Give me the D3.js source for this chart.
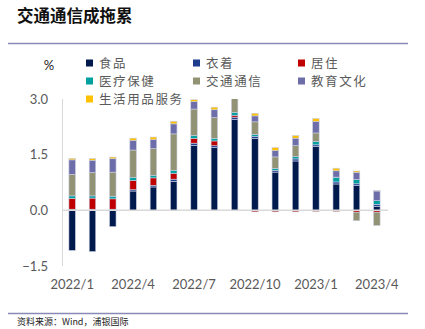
<!DOCTYPE html>
<html><head><meta charset="utf-8">
<script src="https://cdn.jsdelivr.net/npm/d3@7"></script>
<style>
html,body{margin:0;padding:0;background:#fff;}
svg{display:block;}
</style></head>
<body>
<svg id="c" width="425" height="329"></svg>
<script>
const months = ["2022/1","2022/2","2022/3","2022/4","2022/5","2022/6","2022/7","2022/8","2022/9","2022/10","2022/11","2022/12","2023/1","2023/2","2023/3","2023/4"];
const tickLabels = ["2022/1","2022/4","2022/7","2022/10","2023/1","2023/4"];
const yTicks = [-1.5, 0, 1.5, 3.0];
const seriesNames = ["食品","衣着","居住","医疗保健","交通通信","教育文化","生活用品服务"];
const food      = [-1.08,-1.11,-0.44,0.52,0.63,0.78,1.75,1.69,2.45,1.94,1.03,1.33,1.72,0.71,0.67,0.11];
const clothing  = [0.03,0.03,0.03,0.035,0.045,0.06,0.06,0.05,0.06,0.05,0.045,0.055,0.045,0.055,0.045,0.05];
const housing   = [0.29,0.30,0.28,0.25,0.20,0.16,0.13,0.13,0.05,-0.04,-0.04,-0.04,-0.03,-0.03,-0.05,-0.05];
const medical   = [0.07,0.06,0.07,0.08,0.07,0.08,0.08,0.07,0.08,0.055,0.055,0.06,0.09,0.12,0.12,0.10];
const transport = [0.58,0.63,0.65,0.74,0.72,0.98,0.71,0.56,0.45,0.34,0.31,0.30,0.23,0.01,-0.23,-0.36];
const education = [0.39,0.33,0.36,0.26,0.24,0.27,0.20,0.21,0.20,0.16,0.17,0.20,0.31,0.17,0.19,0.26];
const household = [0.04,0.045,0.045,0.06,0.07,0.07,0.05,0.07,0.06,0.07,0.08,0.07,0.08,0.07,0.035,0.01];
const colors = ["#001a4d","#1f3c8f","#c00000","#00a0a0","#929374","#6d6da9","#ffc000"];

const allSeries = [food,clothing,housing,medical,transport,education,household];
const table = months.map((m,i)=>{ const r={month:m}; seriesNames.forEach((k,j)=>r[k]=allSeries[j][i]); return r; });

const svg = d3.select("#c");
const cjk = "'Noto Sans CJK SC', sans-serif";
const num = "Lato, 'Liberation Sans', sans-serif";

// title
svg.append("text").attr("x",17).attr("y",22).attr("font-family",cjk).attr("font-size",16.5)
  .attr("font-weight",700).attr("fill","#111").text("交通通信成拖累");
svg.append("line").attr("x1",8).attr("x2",408).attr("y1",43.5).attr("y2",43.5)
  .attr("stroke","#8a8ab8").attr("stroke-width",1.5);

const x = d3.scaleBand().domain(months).range([62,387]).paddingInner(0.68).paddingOuter(0.34);
const y = d3.scaleLinear().domain([-1.5,3]).range([266,99]);

// axes lines
svg.append("line").attr("x1",62.5).attr("x2",62.5).attr("y1",y(3)).attr("y2",y(-1.5))
  .attr("stroke","#d9d9d9").attr("stroke-width",1);

// y tick labels
const yAxis = d3.axisLeft(y).tickValues(yTicks).tickFormat(d3.format(".1f")).tickSize(0).tickPadding(14);
const ya = svg.append("g").attr("transform","translate(62,0)").call(yAxis);
ya.select(".domain").remove();
ya.selectAll("text").attr("font-family",num).attr("font-size",13).attr("fill","#595959");

svg.append("text").attr("x",49).attr("y",70).attr("text-anchor","middle").attr("font-family",num)
  .attr("font-size",13).attr("fill","#222").text("%");

// stack
const stack = d3.stack().keys(seriesNames).offset(d3.stackOffsetDiverging);
const stacked = stack(table);

svg.append("defs").append("clipPath").attr("id","clip").append("rect")
  .attr("x",55).attr("y",y(3)).attr("width",340).attr("height",y(-1.5)-y(3)+2);

const plot = svg.append("g").attr("clip-path","url(#clip)");
plot.selectAll("g.s").data(stacked).join("g").attr("class","s")
  .attr("fill",(d,i)=>colors[i])
  .selectAll("rect").data(d=>d).join("rect")
  .attr("x",d=>x(d.data.month))
  .attr("width",x.bandwidth())
  .attr("y",d=>y(Math.max(d[0],d[1])))
  .attr("height",d=>Math.abs(y(d[0])-y(d[1])))
  .attr("stroke","#c9cee0").attr("stroke-width",0.6);

// zero line
svg.append("line").attr("x1",62).attr("x2",388).attr("y1",y(0)).attr("y2",y(0))
  .attr("stroke","#d9d9d9").attr("stroke-width",1.5);

// x labels
const xa = svg.append("g").attr("transform","translate(0,"+y(-1.5)+")")
  .call(d3.axisBottom(x).tickValues(tickLabels).tickSize(0).tickPadding(14));
xa.select(".domain").remove();
xa.selectAll("text").attr("font-family",num).attr("font-size",13).attr("fill","#595959");

// legend
const legPos = [[86,63],[193,63],[298,63],[86,81],[193,81],[298,81],[86,99]];
const lg = svg.append("g");
seriesNames.forEach((n,i)=>{
  const [lx,ly] = legPos[i];
  lg.append("rect").attr("x",lx).attr("y",ly-3.5).attr("width",7).attr("height",7).attr("fill",colors[i]);
  lg.append("text").attr("x",lx+13).attr("y",ly+4.5).attr("font-family",cjk).attr("font-size",12.5)
    .attr("letter-spacing",1.6).attr("fill","#595959").text(n);
});

// footer
svg.append("line").attr("x1",8).attr("x2",408).attr("y1",313.5).attr("y2",313.5)
  .attr("stroke","#8a8ab8").attr("stroke-width",1.5);
svg.append("text").attr("x",17).attr("y",325).attr("font-family",cjk).attr("font-size",9)
  .attr("fill","#222").text("资料来源：Wind，浦银国际");
</script>
</body></html>
